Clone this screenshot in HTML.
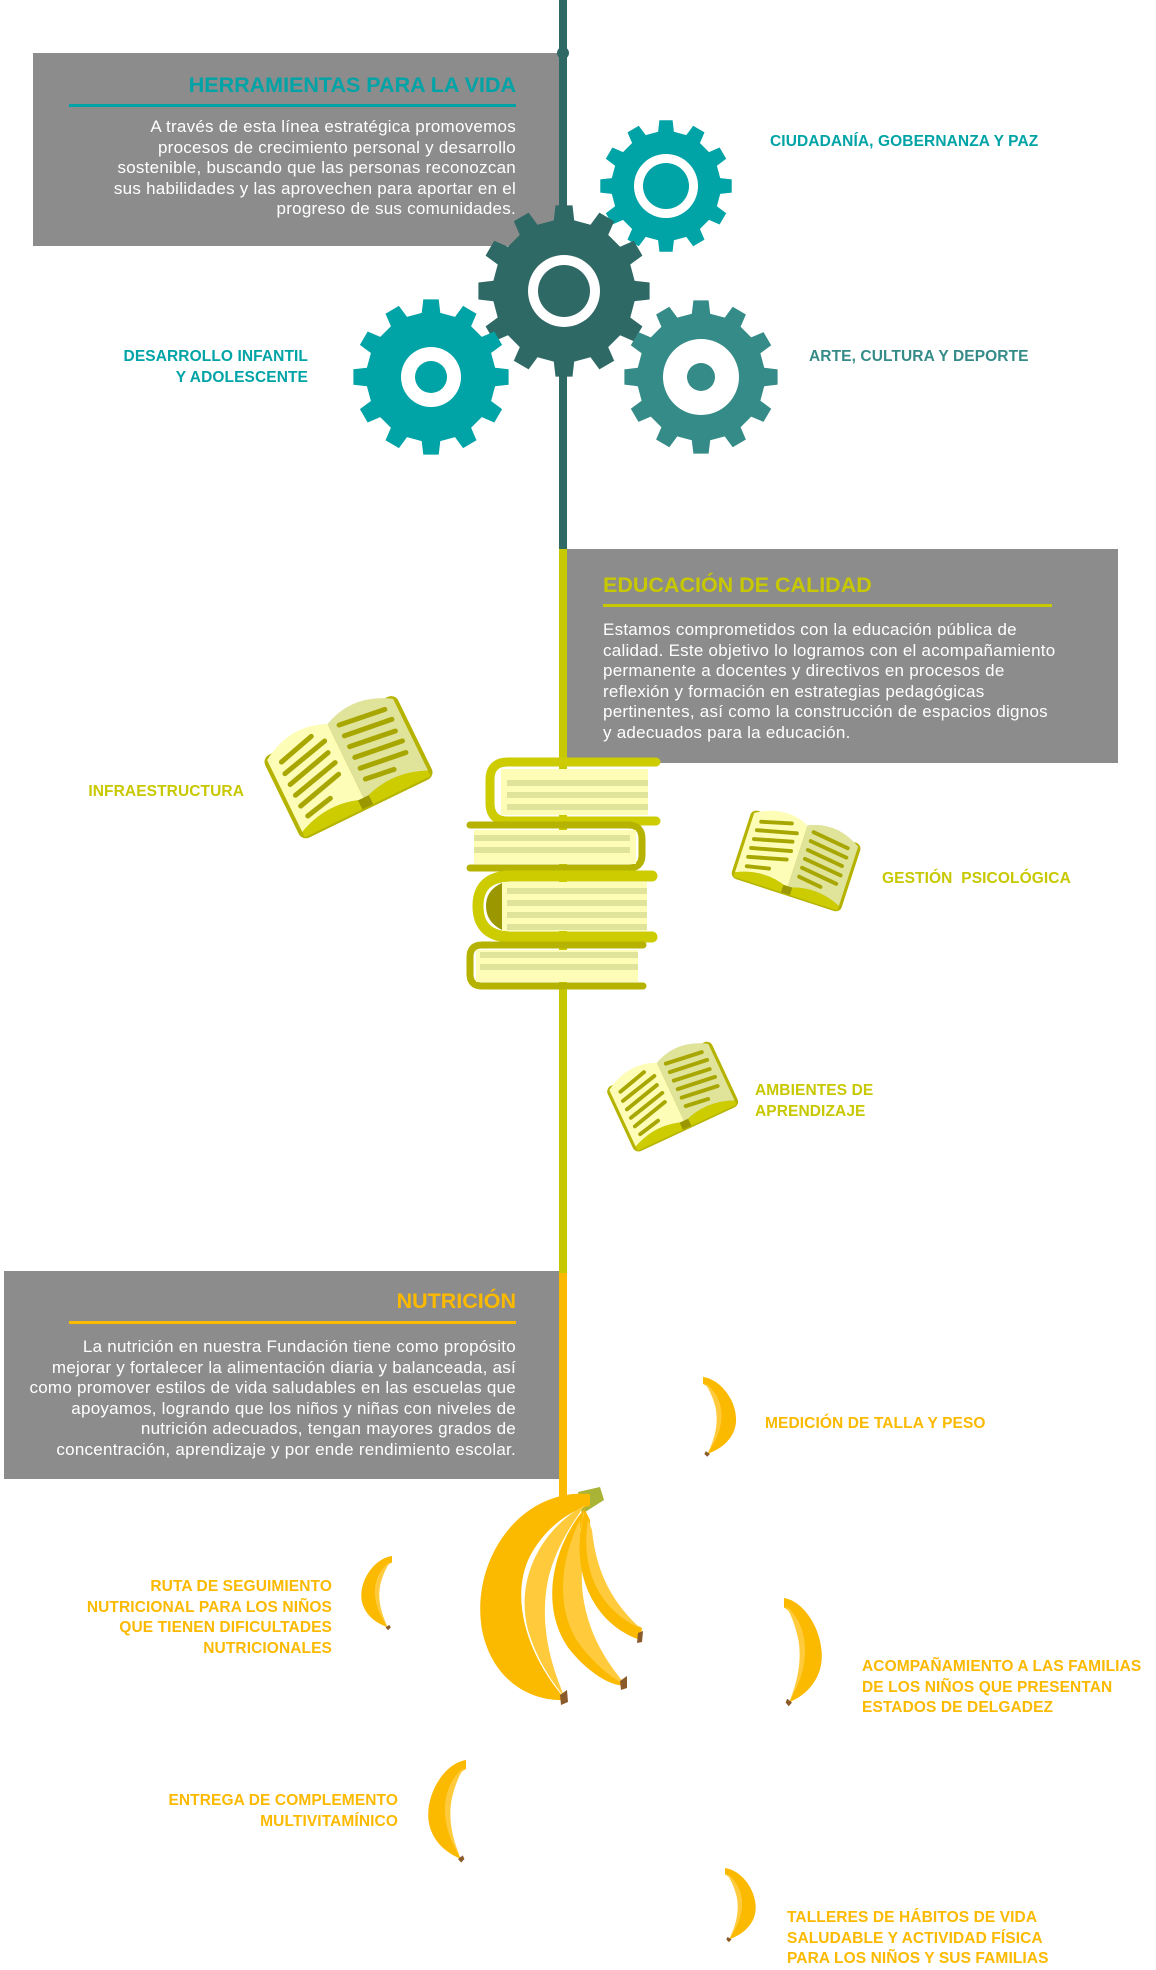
<!DOCTYPE html>
<html><head><meta charset="utf-8"><style>
body{margin:0;width:1156px;height:1967px;background:#fff;position:relative;overflow:hidden;font-family:"Liberation Sans",sans-serif}
.box{position:absolute;background:#8c8c8c}
.t{position:absolute;white-space:nowrap}
.title{font-weight:bold;font-size:21.5px}
.body{color:#fff;font-size:17px;letter-spacing:0.25px;line-height:20.5px}
.lab{font-weight:bold;font-size:15.5px;letter-spacing:0.1px;line-height:20.5px}
svg{position:absolute;left:0;top:0}
</style></head><body>
<div class="box" style="left:33px;top:53px;width:530px;height:193px"></div>
<div class="box" style="left:567px;top:549px;width:551px;height:214px"></div>
<div class="box" style="left:4px;top:1271px;width:555px;height:208px"></div>

<svg width="1156" height="1967">
<rect x="559" y="0" width="8" height="549" fill="#2f6966"/>
<rect x="559" y="549" width="8" height="724" fill="#c8c800"/>
<rect x="559" y="1273" width="8" height="225" fill="#fbb900"/>
<circle cx="563" cy="53" r="6" fill="#2f6966"/>
<rect x="69" y="104" width="447" height="3" fill="#00a3a6"/>
<rect x="603" y="604" width="449" height="3" fill="#c8c800"/>
<rect x="69" y="1321" width="447" height="3" fill="#fbb900"/>
<g id="gears"></g>
<defs>
<g id="book">
<rect x="-74" y="-38" width="148" height="92" rx="8" fill="#b5b300"/>
<path d="M-70,-34 Q-35,-56 0,-40 L0,44 Q-35,30 -70,46 Z" fill="#fdfdb8"/>
<path d="M0,-40 Q35,-56 70,-34 L70,46 Q35,30 0,44 Z" fill="#e0e39a"/>
<path d="M-70,46 Q-35,30 0,44 Q35,30 70,46 L70,52 L-70,52 Z" fill="#cccc00"/>
<rect x="-6" y="42" width="12" height="10" fill="#9a9700"/>
<g stroke="#a8a600" stroke-width="5" stroke-linecap="round">
<path d="M-58,-26 L-20,-36 M-60,-14 L-10,-26 M-60,-2 L-12,-14 M-60,10 L-10,-2 M-60,22 L-12,10 M-58,34 L-30,28"/>
<path d="M10,-34 L58,-28 M10,-22 L60,-16 M10,-10 L58,-4 M10,2 L60,8 M10,14 L58,20 M10,26 L40,30"/>
</g>
</g>
<g id="ban">
<path d="M0,0 C30,4 55,45 45,75 C38,95 20,105 6,110 C22,85 30,60 22,38 C16,22 6,12 0,10 Z" fill="#fbb900"/>
<path d="M2,8 C14,16 24,30 26,48 C28,70 20,90 8,106 C18,85 22,64 18,44 C14,28 8,16 2,8 Z" fill="#ffcb3d"/>
<path d="M4,106 L10,110 L6,114 L2,110 Z" fill="#8a5a2b"/>
</g>
</defs>
<use href="#book" transform="translate(345,760) rotate(-26)"/>
<use href="#book" transform="translate(798,855) rotate(18) scale(0.78)"/>
<use href="#book" transform="translate(670,1091) rotate(-25) scale(0.78)"/>
<g>
<path d="M656,762 L508,762 Q490,762 490,780 L490,803 Q490,821 508,821 L656,821" fill="none" stroke="#cccc00" stroke-width="9" stroke-linecap="round"/>
<rect x="501" y="769" width="147" height="46" fill="#fdfdb8"/>
<g stroke="#e0e39a" stroke-width="6"><line x1="507" y1="783" x2="648" y2="783"/><line x1="507" y1="795" x2="648" y2="795"/><line x1="507" y1="807" x2="648" y2="807"/></g>
<path d="M470,825 L628,825 Q642,825 642,839 L642,855 Q642,868 628,868 L470,868" fill="none" stroke="#b5b300" stroke-width="7" stroke-linecap="round"/>
<rect x="474" y="830" width="162" height="34" fill="#fdfdb8"/>
<g stroke="#e0e39a" stroke-width="6"><line x1="474" y1="838" x2="630" y2="838"/><line x1="474" y1="850" x2="630" y2="850"/></g>
<path d="M652,876 L512,876 Q478,876 478,906 Q478,937 512,937 L652,937" fill="none" stroke="#cccc00" stroke-width="11" stroke-linecap="round"/>
<path d="M502,883 Q486,890 486,906 Q486,922 502,930 Z" fill="#9a9700"/>
<rect x="502" y="882" width="145" height="49" fill="#fdfdb8"/>
<g stroke="#e0e39a" stroke-width="6"><line x1="507" y1="891" x2="647" y2="891"/><line x1="507" y1="903" x2="647" y2="903"/><line x1="507" y1="915" x2="647" y2="915"/><line x1="507" y1="927" x2="647" y2="927"/></g>
<path d="M643,945 L482,945 Q470,945 470,957 L470,974 Q470,986 482,986 L643,986" fill="none" stroke="#b5b300" stroke-width="7" stroke-linecap="round"/>
<rect x="476" y="950" width="162" height="32" fill="#fdfdb8"/>
<g stroke="#e0e39a" stroke-width="6"><line x1="480" y1="955" x2="638" y2="955"/><line x1="480" y1="967" x2="638" y2="967"/></g>
</g>
<g>
<path d="M578,1492 L600,1487 L604,1500 L582,1514 Z" fill="#a9b335"/>
<path d="M590,1494 C520,1488 470,1560 482,1630 C492,1680 530,1702 566,1700 C530,1660 508,1600 530,1556 C545,1528 570,1510 590,1506 Z" fill="#fbb900"/>
<path d="M585,1505 C540,1530 515,1580 528,1630 C540,1670 560,1690 566,1700 C548,1660 540,1620 548,1580 C556,1545 575,1520 585,1505 Z" fill="#ffcb3d"/>
<path d="M585,1508 C550,1550 540,1610 570,1650 C590,1675 615,1688 626,1685 C600,1665 580,1630 576,1590 C574,1560 580,1530 585,1508 Z" fill="#fbb900"/>
<path d="M580,1520 C560,1560 555,1610 580,1645 C598,1668 615,1680 626,1685 C595,1650 580,1610 582,1570 Z" fill="#ffcb3d"/>
<path d="M585,1510 C570,1560 585,1620 640,1640 L642,1628 C605,1610 590,1570 590,1520 Z" fill="#fbb900"/>
<path d="M588,1520 C580,1570 600,1610 640,1628 C610,1600 596,1570 592,1530 Z" fill="#ffcb3d"/>
<path d="M638,1633 L643,1631 L642,1642 L637,1643 Z" fill="#8a5a2b"/>
<path d="M620,1681 L627,1676 L627,1688 L621,1690 Z" fill="#8a5a2b"/>
<path d="M560,1695 L567,1690 L568,1702 L561,1705 Z" fill="#8a5a2b"/>
</g>
<use href="#ban" transform="translate(703,1377) scale(0.7)"/>
<use href="#ban" transform="translate(392,1556) scale(-0.65,0.65)"/>
<use href="#ban" transform="translate(784,1598) scale(0.8,0.95)"/>
<use href="#ban" transform="translate(466,1760) scale(-0.8,0.9)"/>
<use href="#ban" transform="translate(725,1868) scale(0.65)"/>
</svg>

<div class="t title" style="right:640px;top:73px;color:#00a3a6">HERRAMIENTAS PARA LA VIDA</div>
<div class="t body" style="right:640px;top:117px;text-align:right">A través de esta línea estratégica promovemos<br>procesos de crecimiento personal y desarrollo<br>sostenible, buscando que las personas reconozcan<br>sus habilidades y las aprovechen para aportar en el<br>progreso de sus comunidades.</div>
<div class="t lab" style="left:770px;top:132px;color:#00a3a6">CIUDADANÍA, GOBERNANZA Y PAZ</div>
<div class="t lab" style="right:848px;top:347px;color:#00a3a6;text-align:right">DESARROLLO INFANTIL<br>Y ADOLESCENTE</div>
<div class="t lab" style="left:809px;top:347px;color:#358b87">ARTE, CULTURA Y DEPORTE</div>

<div class="t title" style="left:603px;top:573px;color:#c8c800">EDUCACIÓN DE CALIDAD</div>
<div class="t body" style="left:603px;top:620px">Estamos comprometidos con la educación pública de<br>calidad. Este objetivo lo logramos con el acompañamiento<br>permanente a docentes y directivos en procesos de<br>reflexión y formación en estrategias pedagógicas<br>pertinentes, así como la construcción de espacios dignos<br>y adecuados para la educación.</div>
<div class="t lab" style="right:912px;top:782px;color:#c8c800">INFRAESTRUCTURA</div>
<div class="t lab" style="left:882px;top:869px;color:#c8c800">GESTIÓN &nbsp;PSICOLÓGICA</div>
<div class="t lab" style="left:755px;top:1081px;color:#c8c800">AMBIENTES DE<br>APRENDIZAJE</div>

<div class="t title" style="right:640px;top:1289px;color:#fbb900">NUTRICIÓN</div>
<div class="t body" style="right:640px;top:1337px;text-align:right">La nutrición en nuestra Fundación tiene como propósito<br>mejorar y fortalecer la alimentación diaria y balanceada, así<br>como promover estilos de vida saludables en las escuelas que<br>apoyamos, logrando que los niños y niñas con niveles de<br>nutrición adecuados, tengan mayores grados de<br>concentración, aprendizaje y por ende rendimiento escolar.</div>
<div class="t lab" style="left:765px;top:1414px;color:#fbb900">MEDICIÓN DE TALLA Y PESO</div>
<div class="t lab" style="right:824px;top:1577px;color:#fbb900;text-align:right">RUTA DE SEGUIMIENTO<br>NUTRICIONAL PARA LOS NIÑOS<br>QUE TIENEN DIFICULTADES<br>NUTRICIONALES</div>
<div class="t lab" style="left:862px;top:1657px;color:#fbb900">ACOMPAÑAMIENTO A LAS FAMILIAS<br>DE LOS NIÑOS QUE PRESENTAN<br>ESTADOS DE DELGADEZ</div>
<div class="t lab" style="right:758px;top:1791px;color:#fbb900;text-align:right">ENTREGA DE COMPLEMENTO<br>MULTIVITAMÍNICO</div>
<div class="t lab" style="left:787px;top:1908px;color:#fbb900">TALLERES DE HÁBITOS DE VIDA<br>SALUDABLE Y ACTIVIDAD FÍSICA<br>PARA LOS NIÑOS Y SUS FAMILIAS</div>

<script>
const gearCx=[666,564,431,701], gearCy=[186,291,377,377], gearR=[66,86,78,77];
const gearCol=['#00a3a6','#2f6966','#00a3a6','#358b87'];
const ringO=[32,36,30,38], ringI=[23,26,16,14];
const g=document.getElementById('gears');
const NS='http://www.w3.org/2000/svg';
function gearPath(cx,cy,R){const n=12,r=R*0.83;let d='';
 for(let i=0;i<n;i++){const a=i*2*Math.PI/n,s=Math.PI/n;
  const pts=[[r,a-s*0.55],[R,a-s*0.38],[R,a+s*0.38],[r,a+s*0.55],[r,a+s*1.45]];
  pts.forEach((p,j)=>{d+=(i==0&&j==0?'M':'L')+(cx+p[0]*Math.cos(p[1])).toFixed(1)+','+(cy+p[0]*Math.sin(p[1])).toFixed(1);});}
 return d+'Z';}
gearCx.forEach((cx,i)=>{
 const p=document.createElementNS(NS,'path');
 p.setAttribute('d',gearPath(cx,gearCy[i],gearR[i]));p.setAttribute('fill',gearCol[i]);
 
 
 g.appendChild(p);
 const c1=document.createElementNS(NS,'circle');c1.setAttribute('cx',cx);c1.setAttribute('cy',gearCy[i]);c1.setAttribute('r',ringO[i]);c1.setAttribute('fill','#fff');g.appendChild(c1);
 const c2=document.createElementNS(NS,'circle');c2.setAttribute('cx',cx);c2.setAttribute('cy',gearCy[i]);c2.setAttribute('r',ringI[i]);c2.setAttribute('fill',gearCol[i]);g.appendChild(c2);
});
</script>
</body></html>
